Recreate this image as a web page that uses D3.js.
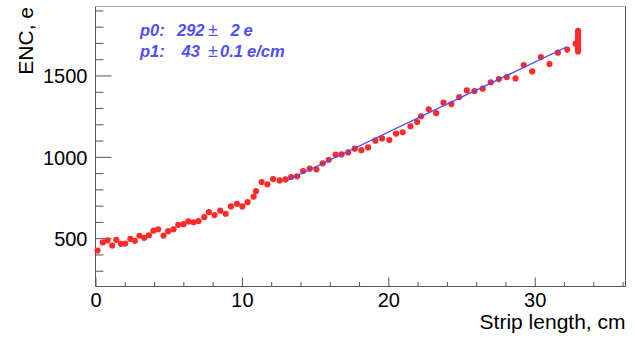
<!DOCTYPE html>
<html>
<head>
<meta charset="utf-8">
<script src="https://cdn.jsdelivr.net/npm/d3@7"></script>
<style>
  html, body { margin: 0; padding: 0; background: #fff; }
  svg { display: block; font-family: "Liberation Sans", Arial, Helvetica, sans-serif; }
</style>
</head>
<body>
<svg id="chart" width="635" height="338"></svg>
<script>
// ---- data ----
const stripLength = [
  0.14, 0.50, 0.82, 1.14, 1.42, 1.74, 2.03, 2.38, 2.69, 3.00,
  3.33, 3.65, 3.96, 4.28, 4.65, 4.97, 5.33, 5.65, 6.01, 6.34,
  6.70, 7.04, 7.43, 7.75, 8.13, 8.52, 8.89, 9.25, 9.66, 10.03,
  10.39, 10.80, 10.96, 11.35, 11.74, 12.13, 12.58, 12.97, 13.36, 13.77,
  14.18, 14.63, 15.09, 15.52, 15.93, 16.40, 16.80, 17.26, 17.71, 18.16,
  18.62, 19.11, 19.57, 20.07, 20.53, 20.98, 21.51, 21.97, 22.24, 22.76,
  23.27, 23.77, 24.31, 24.84, 25.36, 25.88, 26.45, 27.00, 27.55, 28.09,
  28.69, 29.25, 29.83, 30.42, 31.01, 31.58, 32.22, 32.79,
  32.96, 32.96, 32.96, 32.96, 32.96, 32.96, 32.96, 32.96, 32.96
];
const encValues = [
  424, 474, 486, 455, 490, 465, 467, 496, 484, 515,
  502, 518, 546, 555, 516, 543, 555, 582, 586, 603,
  598, 605, 629, 660, 642, 669, 650, 695, 711, 695,
  721, 755, 789, 845, 831, 863, 855, 861, 876, 880,
  913, 927, 923, 960, 982, 1013, 1015, 1027, 1050, 1041,
  1058, 1099, 1113, 1103, 1143, 1151, 1188, 1214, 1249, 1292,
  1269, 1333, 1324, 1367, 1408, 1404, 1419, 1458, 1478, 1490,
  1482, 1564, 1525, 1613, 1570, 1640, 1659, 1696,
  1648, 1665, 1682, 1700, 1715, 1730, 1748, 1762, 1775
];
const fitP0 = 292;      // e
const fitP1 = 43;       // e/cm
const fitRange = [13.08, 32.2];
const xMajorTicks = [0, 10, 20, 30];
const xMinorTicks = [2, 4, 6, 8, 12, 14, 16, 18, 22, 24, 26, 28, 32, 34, 36];
const yMajorTicks = [500, 1000, 1500];
const yMinorTicks = [300, 400, 600, 700, 800, 900, 1100, 1200, 1300, 1400, 1600, 1700, 1800, 1900];
const xTitle = "Strip length, cm";
const yTitle = "ENC, e";

// ---- layout ----
const L = 95.5, R = 625.5, T = 6.5, B = 286.5;
const svg = d3.select("#chart");
const x = d3.scaleLinear().domain([0, 36.2]).range([L, R]);
const y = d3.scaleLinear().domain([203, 1924]).range([B, T]);
const axisColor = "#555";

// frame
svg.append("line").attr("x1", L).attr("x2", R).attr("y1", T).attr("y2", T)
  .attr("stroke", "#aaa").attr("stroke-width", 1);
svg.append("line").attr("x1", R).attr("x2", R).attr("y1", T).attr("y2", B)
  .attr("stroke", axisColor).attr("stroke-width", 1);

// y axis
const yMajor = svg.append("g").attr("transform", `translate(${L},0)`)
  .call(d3.axisLeft(y).tickValues(yMajorTicks).tickSize(-16).tickSizeOuter(0).tickPadding(8).tickFormat(d3.format("d")));
const yMinor = svg.append("g").attr("transform", `translate(${L},0)`)
  .call(d3.axisLeft(y).tickValues(yMinorTicks).tickSize(-8).tickSizeOuter(0).tickFormat(""));
// x axis
const xMajor = svg.append("g").attr("transform", `translate(0,${B})`)
  .call(d3.axisBottom(x).tickValues(xMajorTicks).tickSize(-9).tickSizeOuter(0).tickPadding(8).tickFormat(d3.format("d")));
const xMinor = svg.append("g").attr("transform", `translate(0,${B})`)
  .call(d3.axisBottom(x).tickValues(xMinorTicks).tickSize(-4.5).tickSizeOuter(0).tickFormat(""));

[yMajor, yMinor, xMajor, xMinor].forEach(g => {
  g.select(".domain").remove();
  g.selectAll(".tick line").attr("stroke", axisColor);
});
svg.append("line").attr("x1", L).attr("x2", L).attr("y1", T).attr("y2", B).attr("stroke", axisColor);
svg.append("line").attr("x1", L).attr("x2", R).attr("y1", B).attr("y2", B).attr("stroke", axisColor);

[yMajor, xMajor].forEach(g => g.selectAll(".tick text")
  .attr("fill", "#000").attr("font-size", 20).attr("font-family", '"Liberation Sans", Arial, sans-serif'));
yMajor.selectAll(".tick text").attr("dy", "0.36em");
xMajor.selectAll(".tick text").attr("dy", "0.72em").attr("y", 6);

// axis titles
svg.append("text").attr("x", R).attr("y", 329).attr("text-anchor", "end")
  .attr("font-size", 21).attr("fill", "#000").text(xTitle);
svg.append("text").attr("transform", `translate(33,7) rotate(-90)`).attr("text-anchor", "end")
  .attr("font-size", 21).attr("fill", "#000").text(yTitle);

// data points
svg.append("g").selectAll("circle").data(stripLength.map((d, i) => [d, encValues[i]]))
  .join("circle")
  .attr("cx", d => x(d[0])).attr("cy", d => y(d[1])).attr("r", 3.1)
  .attr("fill", "#ff2a2a");

// fit line
const line = d3.line().x(d => x(d)).y(d => y(fitP0 + fitP1 * d));
svg.append("path").datum(fitRange).attr("d", line)
  .attr("fill", "none").attr("stroke", "#4848ff").attr("stroke-width", 1.3);

// fit parameters text
const txt = svg.append("g").attr("fill", "#5050ee").attr("font-size", 16.5)
  .attr("font-weight", "bold").attr("font-style", "italic");
const row1 = txt.append("text").attr("y", 36);
row1.append("tspan").attr("x", 140).text("p0:");
row1.append("tspan").attr("x", 177).text(String(fitP0));
row1.append("tspan").attr("x", 208).attr("font-weight", "normal").attr("font-style", "normal").attr("font-size", 18).text("\u00b1");
row1.append("tspan").attr("x", 230.5).text("2");
row1.append("tspan").attr("x", 243.5).text("e");
const row2 = txt.append("text").attr("y", 56.5);
row2.append("tspan").attr("x", 140).text("p1:");
row2.append("tspan").attr("x", 181.5).text(String(fitP1));
row2.append("tspan").attr("x", 208).attr("font-weight", "normal").attr("font-style", "normal").attr("font-size", 18).text("\u00b1");
row2.append("tspan").attr("x", 220).text("0.1");
row2.append("tspan").attr("x", 247).text("e/cm");
</script>
</body>
</html>
